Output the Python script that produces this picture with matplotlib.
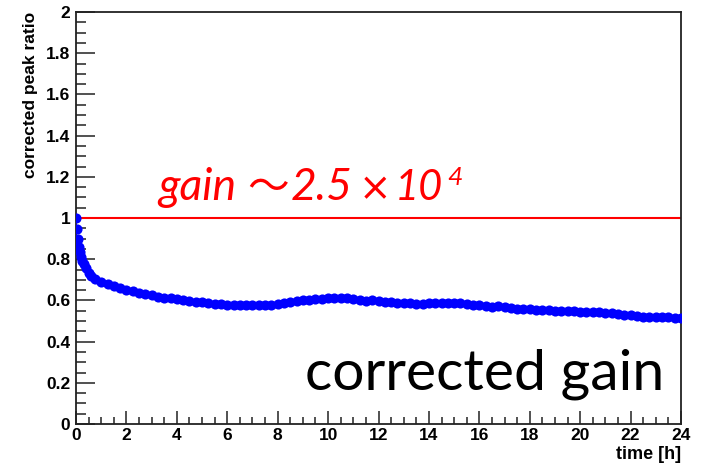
import matplotlib
matplotlib.use("Agg")
import matplotlib.pyplot as plt
from matplotlib.ticker import MultipleLocator, FuncFormatter

time_h = [0.0, 0.04, 0.08, 0.12, 0.16, 0.2, 0.25, 0.3, 0.4, 0.5, 0.6, 0.75,
          1.0, 1.25, 1.5, 1.75, 2.0, 2.25, 2.5, 2.75, 3.0, 3.25, 3.5, 3.75,
          4.0, 4.25, 4.5, 4.75, 5.0, 5.25, 5.5, 5.75, 6.0, 6.25, 6.5, 6.75,
          7.0, 7.25, 7.5, 7.75, 8.0, 8.25, 8.5, 8.75, 9.0, 9.25, 9.5, 9.75,
          10.0, 10.25, 10.5, 10.75, 11.0, 11.25, 11.5, 11.75, 12.0, 12.25, 12.5, 12.75,
          13.0, 13.25, 13.5, 13.75, 14.0, 14.25, 14.5, 14.75, 15.0, 15.25, 15.5, 15.75,
          16.0, 16.25, 16.5, 16.75, 17.0, 17.25, 17.5, 17.75, 18.0, 18.25, 18.5, 18.75,
          19.0, 19.25, 19.5, 19.75, 20.0, 20.25, 20.5, 20.75, 21.0, 21.25, 21.5, 21.75,
          22.0, 22.25, 22.5, 22.75, 23.0, 23.25, 23.5, 23.75, 24.0]
peak_ratio = [1.0, 0.945, 0.897, 0.86, 0.835, 0.81, 0.79, 0.775, 0.755, 0.735, 0.72, 0.705,
              0.69, 0.678, 0.668, 0.66, 0.652, 0.645, 0.637, 0.63, 0.624, 0.618, 0.614, 0.61,
              0.606, 0.602, 0.598, 0.594, 0.59, 0.587, 0.584, 0.582, 0.579, 0.578, 0.576, 0.578,
              0.577, 0.579, 0.578, 0.58, 0.582, 0.586, 0.592, 0.598, 0.602, 0.604, 0.606, 0.609,
              0.611, 0.612, 0.611, 0.61, 0.607, 0.601, 0.598, 0.601, 0.599, 0.594, 0.59, 0.587,
              0.587, 0.586, 0.584, 0.584, 0.586, 0.585, 0.586, 0.586, 0.585, 0.586, 0.584, 0.58,
              0.576, 0.572, 0.569, 0.571, 0.566, 0.561, 0.56, 0.559, 0.557, 0.553, 0.551, 0.551,
              0.549, 0.548, 0.548, 0.547, 0.546, 0.545, 0.543, 0.542, 0.541, 0.537, 0.534, 0.529,
              0.527, 0.523, 0.521, 0.519, 0.518, 0.517, 0.517, 0.516, 0.515]
reference_level = 1.0

fig = plt.figure(figsize=(7.06, 4.65), dpi=100)
ax = fig.add_axes([76/706, 41/465, 605/706, 412/465])

ax.axhline(reference_level, color="#ff0000", lw=1.5, zorder=2)
ax.plot(time_h, peak_ratio, "o", color="#0000ff", ms=7.3, mew=0, zorder=3)

ax.set_xlim(0, 24)
ax.set_ylim(0, 2)
ax.xaxis.set_major_locator(MultipleLocator(2))
ax.xaxis.set_minor_locator(MultipleLocator(0.5))
ax.yaxis.set_major_locator(MultipleLocator(0.2))
ax.yaxis.set_minor_locator(MultipleLocator(0.05))

def fmt(v, pos):
    s = f"{v:.1f}"
    if s.endswith(".0"):
        s = s[:-2]
    return s

ax.yaxis.set_major_formatter(FuncFormatter(fmt))
ax.xaxis.set_major_formatter(FuncFormatter(fmt))

for sp in ax.spines.values():
    sp.set_linewidth(1.3)
    sp.set_color("#222222")

ax.tick_params(axis="y", which="major", direction="in", length=13.5, width=1.1, pad=4,
               labelsize=12.5, color="#222222")
ax.tick_params(axis="y", which="minor", direction="in", length=7, width=1.1, color="#222222")
ax.tick_params(axis="x", which="major", direction="in", length=9.5, width=1.1, pad=3,
               labelsize=12.5, color="#222222")
ax.tick_params(axis="x", which="minor", direction="in", length=5, width=1.1, color="#222222")
for lab in ax.get_xticklabels() + ax.get_yticklabels():
    lab.set_fontfamily("Liberation Sans")
    lab.set_fontweight("bold")

ax.set_ylabel("corrected peak ratio", fontfamily="Liberation Sans", fontweight="bold",
              fontsize=12.5, loc="top", labelpad=6)
ax.set_xlabel("time [h]", fontfamily="Liberation Sans", fontweight="bold",
              fontsize=13, loc="right", labelpad=2)

# red annotation, composed of pieces
red = "#ff0000"
base_y = 1 - 200/465
fig.text(158/706, base_y, "gain", color=red, fontsize=32, style="italic",
         family=["Lato"], ha="left", va="baseline")
fig.text(247/706, base_y, "～", color=red, fontsize=30,
         family=["Noto Sans CJK JP"], ha="left", va="baseline")
fig.text(291/706, base_y, "2.5", color=red, fontsize=32, style="italic",
         family=["Lato"], ha="left", va="baseline")
fig.text(359/706, base_y, "×", color=red, fontsize=28,
         family=["DejaVu Sans"], ha="left", va="baseline")
fig.text(395/706, base_y, "10", color=red, fontsize=30, style="italic",
         family=["Lato"], ha="left", va="baseline")
fig.text(447/706, 1 - 185/465, "4", color=red, fontsize=19, style="italic",
         family=["Lato"], ha="left", va="baseline")

fig.text(305/706, 1 - 389/465, "corrected gain", color="black", fontsize=41,
         family=["Lato"], ha="left", va="baseline")

fig.savefig("out.png", dpi=100)
